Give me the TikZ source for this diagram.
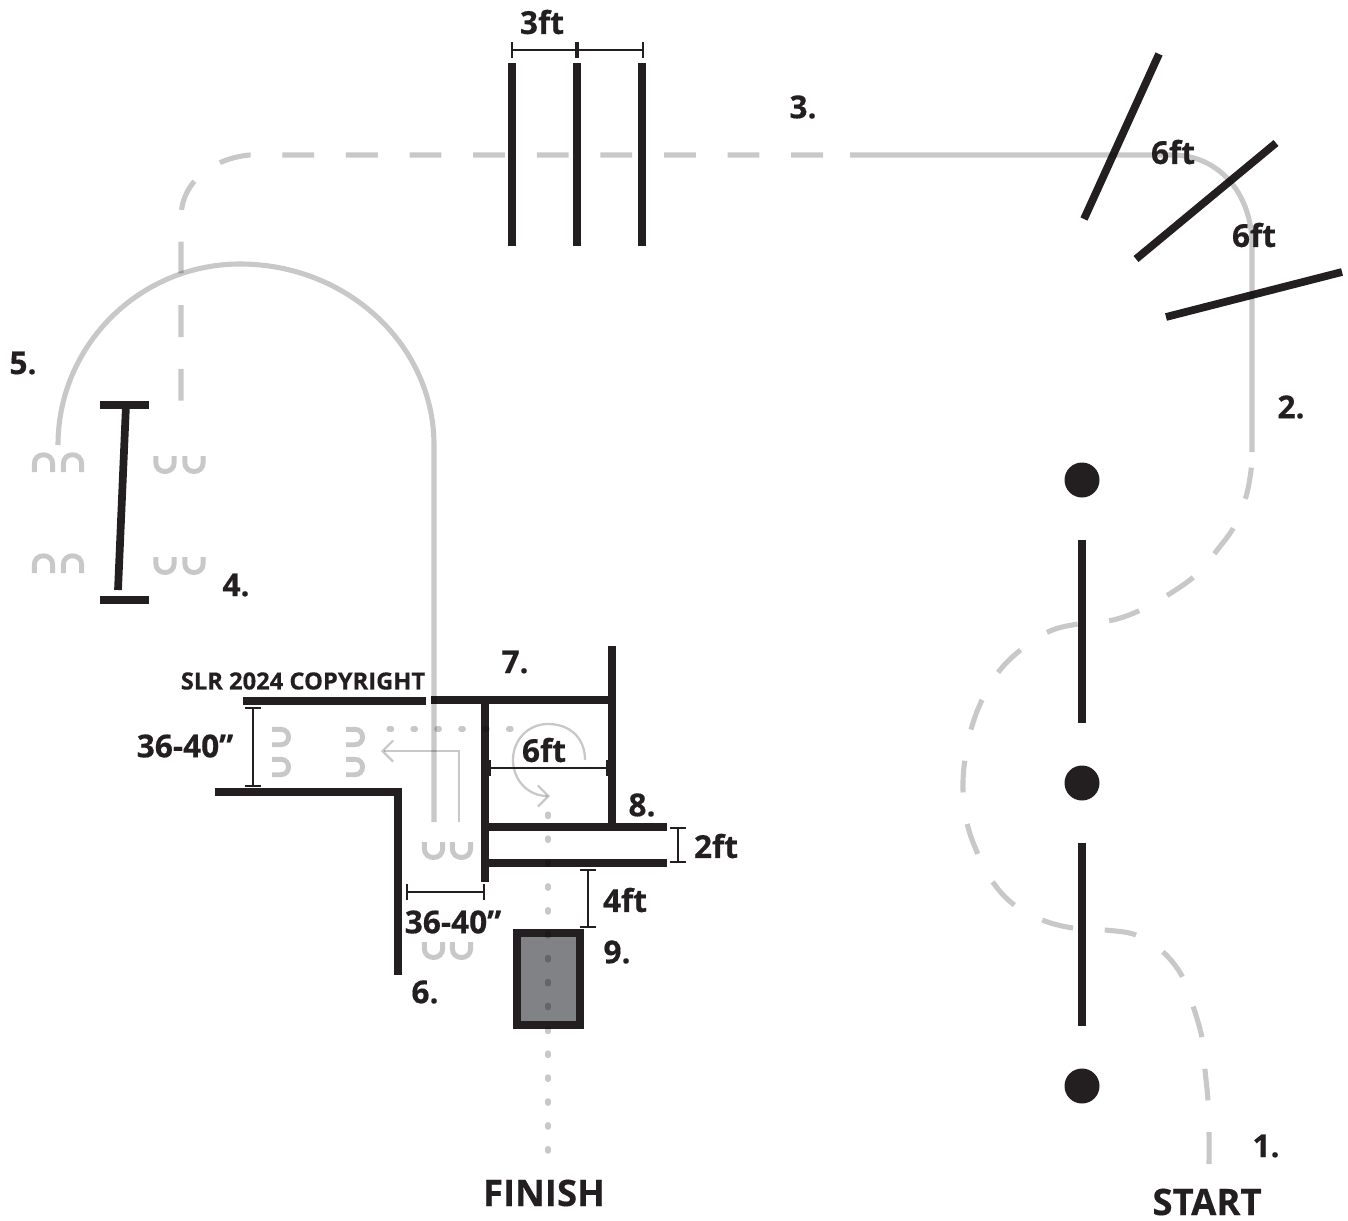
\documentclass[tikz,border=0pt]{standalone}
\usepackage{xcolor}
\usepackage{fontspec}
\setmainfont[BoldFeatures={FakeBold=0.4}]{Open Sans}
\usetikzlibrary{arrows.meta}
\definecolor{wallC}{HTML}{231F20}
\definecolor{trackC}{HTML}{C8C8C8}
\definecolor{boxC}{HTML}{808285}

\begin{document}
\begin{tikzpicture}[
  x=0.02cm,y=-0.02cm,
  wall/.style={draw=wallC,line width=4.4pt},
  track/.style={draw=trackC,line width=2.9pt},
  dashtrack/.style={track,dash pattern=on 18.1pt off 18.1pt},
  dotline/.style={draw=trackC,line width=2.9pt,line cap=round,dash pattern=on 1.5pt off 12.1pt},
  thin track/.style={draw=trackC,line width=1.3pt,-{Straight Barb[length=6pt,width=12pt]}},
  foot/.style={draw=trackC,line width=2.8pt},
  dimline/.style={draw=wallC,line width=1.2pt,{Bar[width=9pt]}-{Bar[width=9pt]}},
  lab/.style={font=\fontsize{18}{20}\bfseries,text=wallC,inner sep=0pt},
  biglab/.style={font=\fontsize{20.8}{24}\bfseries,text=wallC,inner sep=0pt}
]
  \useasboundingbox (0,0) rectangle (1348,1220);

  % Weave poles
  \fill[wallC] (1082,480) circle (17.5);
  \fill[wallC] (1082,783) circle (17.5);
  \fill[wallC] (1082,1086) circle (17.5);
  \draw[wall] (1082,540) -- (1082,723);
  \draw[wall] (1082,843) -- (1082,1026);

  % Angled jumps
  \draw[wall] (1159,54) -- (1084,219);
  \draw[wall] (1276,143) -- (1136,259);
  \draw[wall] (1342,272) -- (1166,317);

  % Three bars
  \draw[wall] (512,63) -- (512,246);
  \draw[wall] (577,63) -- (577,246);
  \draw[wall] (642,63) -- (642,246);

  % Single jump
  \draw[wall] (100,405) -- (149,405);
  \draw[wall] (100,600) -- (149,600);
  \draw[wall] (126,405) -- (118,590);

  % Chute walls
  \draw[wall] (243,701) -- (426,701);
  \draw[wall] (431,700) -- (616,700);
  \draw[wall] (612,646) -- (612,831);
  \draw[wall] (485,700) -- (485,882);
  \draw[wall] (215,792) -- (402,792);
  \draw[wall] (398,792) -- (398,975);
  \draw[wall] (485,827) -- (667,827);
  \draw[wall] (485,863) -- (667,863);

  % Pause box
  \draw[wall,fill=boxC] (517,933) rectangle (580,1025);

  % Everything gray lies over the rest
  \begin{scope}[blend mode=multiply]
    % Route, start to jumps
    \draw[dashtrack] plot[smooth,tension=0.6] coordinates {
      (1209,1164) (1209,1133) (1208,1101) (1205,1070) (1202,1038) (1193,1006)
      (1182,976) (1163,952) (1136,935) (1105,930) (1073,928) (1042,920)
      (1013,904) (992,881) (977,852) (967,823) (963,790) (965,759)
      (972,726) (983,698) (1000,670) (1023,648) (1050,631) (1078,624)
      (1113,620) (1143,609) (1171,593) (1197,574) (1218,549) (1235,525)
      (1247,493) (1252,462)};
    \draw[track] (1252,452) -- (1252,245)
      .. controls (1252,195) and (1220,155) .. (1172,155) -- (850,155);
    \draw[dashtrack] (823,155) -- (250,155)
      .. controls (215,158) and (181,180) .. (181,218) -- (181,410);

    % Route, big turn to the chute
    \draw[track] (58,445) .. controls (58,345) and (140,264) .. (240,264)
      .. controls (347,264) and (434,345) .. (434,445) -- (434,822);

    % Dotted route to finish
    \draw[dotline] (389,729) -- (515,729);
    \draw[dotline] (548,814) -- (548,1155);

    % Thin arrows
    \draw[thin track] (459,822) -- (459,751) -- (381,751);
    \draw[thin track] (585,760) .. controls (585,738) and (570,724) .. (548,724)
      .. controls (528,724) and (513,740) .. (513,760)
      .. controls (513,780) and (528,796) .. (550,796);

    % Feet
    \foreach \x/\y in {43.5/472,72.5/472,43.5/573,72.5/573}
      \draw[foot] (\x-9.2,\y) -- (\x-9.2,\y-8) .. controls (\x-9.2,\y-20.3) and (\x+9.2,\y-20.3) .. (\x+9.2,\y-8) -- (\x+9.2,\y);
    \foreach \x/\y in {165/456,194/456,165/557,194/557,433.5/842,461.5/842,433.5/942,461.5/942}
      \draw[foot] (\x-9.2,\y) -- (\x-9.2,\y+6.3) .. controls (\x-9.2,\y+18.6) and (\x+9.2,\y+18.6) .. (\x+9.2,\y+6.3) -- (\x+9.2,\y);
    \foreach \x/\y in {272/737,272/767,346/737,346/767}
      \draw[foot] (\x,\y-7.7) -- (\x+8.8,\y-7.7) .. controls (\x+19.1,\y-7.7) and (\x+19.1,\y+7.7) .. (\x+8.8,\y+7.7) -- (\x,\y+7.7);
  \end{scope}

  % Measures
  \draw[dimline] (511,50) -- (577,50);
  \draw[dimline] (577,50) -- (644,50);
  \draw[dimline] (253,707) -- (253,787);
  \draw[dimline] (406,892) -- (485,892);
  \draw[dimline] (489,768) -- (608,768);
  \draw[dimline] (678,827) -- (678,863);
  \draw[dimline] (588,869) -- (588,928);

  % Labels
  \node[lab] (three) at (542,22) {3ft};
  \node[lab] (gapa) at (1173,152) {6ft};
  \node[lab] (gapb) at (1254,235) {6ft};
  \node[lab] (box) at (544,750) {6ft};
  \node[lab] (two) at (716,846) {2ft};
  \node[lab] (four) at (625,900) {4ft};
  \node[lab] (chuteb) at (185,746) {36-40”};
  \node[lab] (chutea) at (453,922) {36-40”};
  \node[lab] (one) at (1266,1146) {1.};
  \node[lab] (second) at (1291,407) {2.};
  \node[lab] (third) at (803,107) {3.};
  \node[lab] (fourth) at (236,585) {4.};
  \node[lab] (fifth) at (23,363) {5.};
  \node[lab] (sixth) at (425,992) {6.};
  \node[lab] (seventh) at (515,662) {7.};
  \node[lab] (eighth) at (642,805) {8.};
  \node[lab] (ninth) at (617,952) {9.};
  \node[font=\fontsize{13.5}{15}\bfseries,text=wallC,inner sep=0pt] (copy) at (303,681) {SLR 2024 COPYRIGHT};
  \node[biglab] (finish) at (544,1193) {FINISH};
  \node[biglab] (start) at (1207,1202) {START};
\end{tikzpicture}
\end{document}
